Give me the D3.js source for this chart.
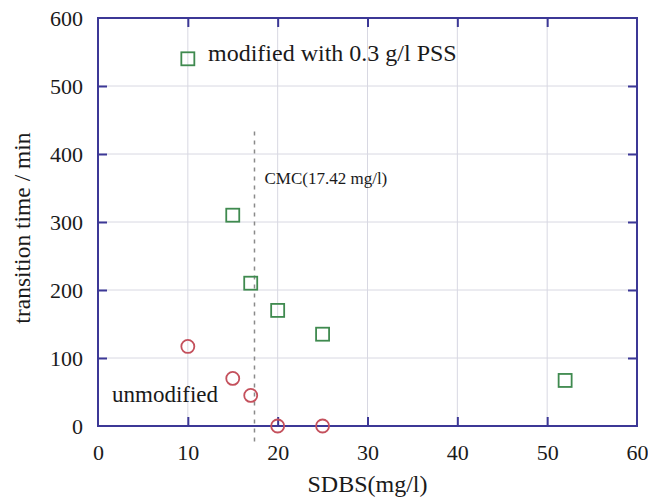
<!DOCTYPE html>
<html>
<head>
<meta charset="utf-8">
<script src="https://cdn.jsdelivr.net/npm/d3@7"></script>
<style>
  html, body { margin: 0; padding: 0; background: #fff; }
  svg { display: block; }
  text { font-family: "Liberation Serif", "DejaVu Serif", serif; fill: #1a1a1a; }
</style>
</head>
<body>
<svg id="chart" width="648" height="504"></svg>
<script>
// SDBS concentration (mg/l) and transition times (min)
const modifiedX = [10, 15, 17, 20, 25, 52];
const modifiedY = [540, 310, 210, 170, 135, 67];
const unmodifiedX = [10, 15, 17, 20, 25];
const unmodifiedY = [117, 70, 45, 0, 0];
const xTicks = [0, 10, 20, 30, 40, 50, 60];
const yTicks = [0, 100, 200, 300, 400, 500, 600];
const cmcValue = 17.42;
const cmcLabel = "CMC(17.42 mg/l)";
const modifiedLabel = "modified with 0.3 g/l PSS";
const unmodifiedLabel = "unmodified";

const svg = d3.select("#chart");
const margin = { left: 98, right: 11, top: 18, bottom: 78 };
const W = 648, H = 504;
const x = d3.scaleLinear().domain([0, 60]).range([margin.left, W - margin.right]);
const y = d3.scaleLinear().domain([0, 600]).range([H - margin.bottom, margin.top]);

const frameColor = "#3c3896";
const gridColor = "#d8d8e2";
const serif = '"Liberation Serif", "DejaVu Serif", serif';

// grid lines at the inner ticks
svg.append("g").selectAll("line").data(xTicks.slice(1, -1)).join("line")
  .attr("x1", d => x(d)).attr("x2", d => x(d))
  .attr("y1", y(600)).attr("y2", y(0))
  .attr("stroke", gridColor).attr("stroke-width", 1);
svg.append("g").selectAll("line").data(yTicks.slice(1, -1)).join("line")
  .attr("y1", d => y(d)).attr("y2", d => y(d))
  .attr("x1", x(0)).attr("x2", x(60))
  .attr("stroke", gridColor).attr("stroke-width", 1);

// axes with inward ticks on all four sides
const tickLen = 9;
const bottomAxis = svg.append("g").attr("transform", `translate(0,${y(0)})`)
  .call(d3.axisBottom(x).tickValues(xTicks).tickSize(-tickLen).tickPadding(18));
const topAxis = svg.append("g").attr("transform", `translate(0,${y(600)})`)
  .call(d3.axisTop(x).tickValues(xTicks).tickSize(-tickLen).tickFormat(""));
const leftAxis = svg.append("g").attr("transform", `translate(${x(0)},0)`)
  .call(d3.axisLeft(y).tickValues(yTicks).tickSize(-tickLen).tickPadding(15));
const rightAxis = svg.append("g").attr("transform", `translate(${x(60)},0)`)
  .call(d3.axisRight(y).tickValues(yTicks).tickSize(-tickLen).tickFormat(""));

[bottomAxis, topAxis, leftAxis, rightAxis].forEach(g => {
  g.select(".domain").remove();
  g.selectAll(".tick line").attr("stroke", frameColor).attr("stroke-width", 2);
  g.selectAll(".tick text")
    .style("font-family", serif)
    .attr("font-size", 22).attr("fill", "#1a1a1a");
});
// keep the end ticks from doubling the frame
bottomAxis.selectAll(".tick").filter(d => d === 0 || d === 60).select("line").remove();
topAxis.selectAll(".tick").filter(d => d === 0 || d === 60).select("line").remove();
leftAxis.selectAll(".tick").filter(d => d === 0 || d === 600).select("line").remove();
rightAxis.selectAll(".tick").filter(d => d === 0 || d === 600).select("line").remove();

// frame
svg.append("rect")
  .attr("x", x(0)).attr("y", y(600))
  .attr("width", x(60) - x(0)).attr("height", y(0) - y(600))
  .attr("fill", "none").attr("stroke", frameColor).attr("stroke-width", 2);

// CMC marker
svg.append("line")
  .attr("x1", x(cmcValue)).attr("x2", x(cmcValue))
  .attr("y1", y(433)).attr("y2", y(0) + 20)
  .attr("stroke", "#8a8a8a").attr("stroke-width", 1.5)
  .attr("stroke-dasharray", "4,5");
svg.append("text")
  .attr("x", x(cmcValue) + 10).attr("y", 184)
  .attr("font-size", 17)
  .text(cmcLabel);

// data markers
const sq = 13;
svg.append("g").selectAll("rect").data(modifiedX.map((d, i) => [d, modifiedY[i]])).join("rect")
  .attr("x", d => x(d[0]) - sq / 2).attr("y", d => y(d[1]) - sq / 2)
  .attr("width", sq).attr("height", sq)
  .attr("fill", "none").attr("stroke", "#3f8a4f").attr("stroke-width", 1.8);
svg.append("g").selectAll("circle").data(unmodifiedX.map((d, i) => [d, unmodifiedY[i]])).join("circle")
  .attr("cx", d => x(d[0])).attr("cy", d => y(d[1]))
  .attr("r", 6.5)
  .attr("fill", "none").attr("stroke", "#c4505c").attr("stroke-width", 1.8);

// series labels
svg.append("text")
  .attr("x", 208).attr("y", 61)
  .attr("font-size", 24)
  .text(modifiedLabel);
svg.append("text")
  .attr("x", 112).attr("y", 402)
  .attr("font-size", 23)
  .text(unmodifiedLabel);

// axis titles
svg.append("text")
  .attr("x", (x(0) + x(60)) / 2).attr("y", 492)
  .attr("text-anchor", "middle").attr("font-size", 24)
  .text("SDBS(mg/l)");
svg.append("text")
  .attr("transform", `translate(30,${(y(0) + y(600)) / 2 + 6}) rotate(-90)`)
  .attr("text-anchor", "middle").attr("font-size", 23.5)
  .text("transition time / min");
</script>
</body>
</html>
